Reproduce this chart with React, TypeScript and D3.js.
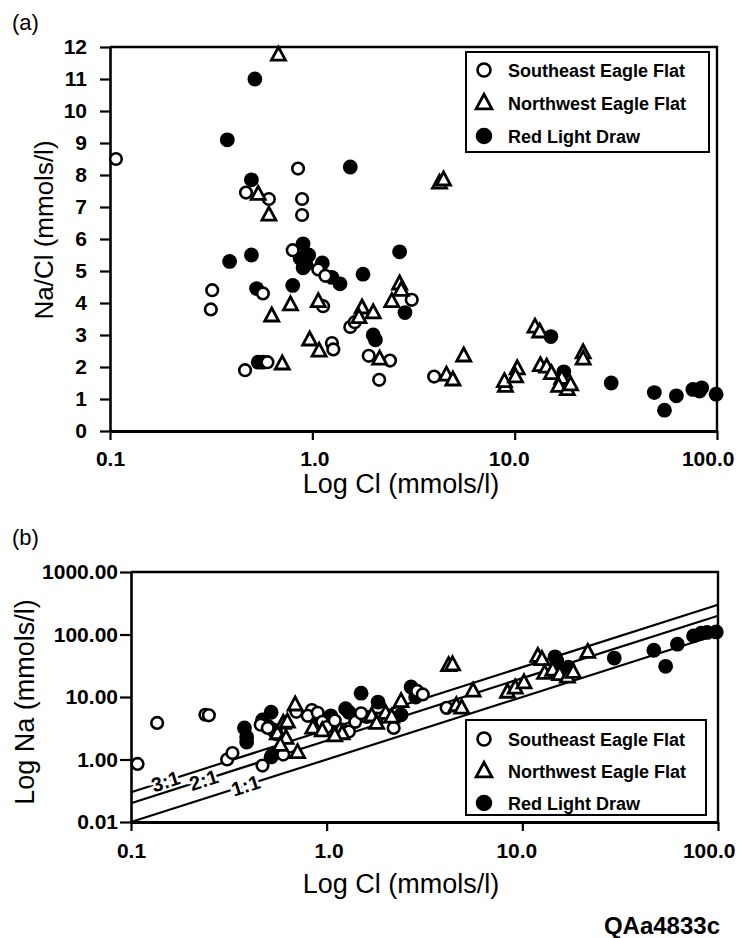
import React, { useEffect, useRef } from 'react';
import * as d3 from 'd3';

type Pt = [number, number];

// panel (a): [Cl, Na/Cl]
const seA: Pt[] = [
  [0.107, 8.5], [0.85, 8.2], [0.47, 7.45], [0.61, 7.25], [0.89, 7.25], [0.89, 6.75],
  [0.8, 5.65], [1.07, 5.05], [1.16, 4.85], [0.32, 4.4], [0.315, 3.8], [0.57, 4.3],
  [1.13, 3.9], [1.25, 2.75], [1.27, 2.55], [0.465, 1.9], [0.6, 2.15], [1.54, 3.25],
  [1.62, 3.4], [1.9, 2.35], [3.1, 4.1], [2.42, 2.2], [2.14, 1.6], [4.0, 1.7],
];
const nwA: Pt[] = [
  [0.68, 11.75], [0.54, 7.4], [0.61, 6.75], [0.63, 3.6], [0.78, 3.95], [1.07, 4.05],
  [0.97, 2.85], [1.08, 2.5], [0.71, 2.1], [4.25, 7.75], [4.45, 7.85], [2.7, 4.6],
  [2.75, 4.4], [2.47, 4.05], [1.76, 3.85], [2.0, 3.7], [1.7, 3.55], [2.15, 2.25],
  [5.6, 2.35], [4.6, 1.75], [4.95, 1.6], [9.0, 1.4], [8.9, 1.55], [10.3, 1.95],
  [10.1, 1.7], [12.6, 3.25], [13.3, 3.1], [13.4, 2.05], [14.4, 2.0], [15.2, 1.8],
  [17.1, 1.65], [16.5, 1.4], [18.2, 1.3], [18.9, 1.45], [21.8, 2.45], [21.8, 2.25],
];
const rlA: Pt[] = [
  [0.52, 11.0], [0.38, 9.1], [1.54, 8.25], [0.5, 7.85], [0.9, 5.85], [0.87, 5.4],
  [0.93, 5.2], [0.96, 5.5], [0.9, 5.1], [0.39, 5.3], [0.5, 5.5], [1.12, 5.25],
  [1.25, 4.8], [1.37, 4.6], [1.78, 4.9], [0.53, 4.45], [0.8, 4.55], [0.54, 2.15],
  [0.57, 2.15], [2.7, 5.6], [2.87, 3.7], [2.0, 3.0], [2.05, 2.85], [15.1, 2.95],
  [17.5, 1.85], [30, 1.5], [49, 1.2], [55, 0.65], [63, 1.1], [76, 1.3], [82, 1.25],
  [84, 1.35], [99, 1.15],
];

// panel (b): [Cl, Na]
const seB: Pt[] = [
  [0.108, 0.85], [0.136, 3.85], [0.24, 5.2], [0.25, 5.1], [0.31, 1.0], [0.33, 1.27],
  [0.47, 0.8], [0.6, 1.2], [0.46, 3.6], [0.5, 3.2], [0.84, 6.2], [0.8, 5.0],
  [0.9, 5.6], [0.95, 4.0], [1.0, 3.3], [1.1, 4.2], [1.2, 3.0], [1.3, 2.8],
  [1.6, 4.8], [2.2, 3.2], [2.9, 12.5], [3.1, 11], [4.1, 6.7], [0.7, 5.8],
  [1.4, 4.0], [1.5, 5.5], [1.8, 4.5],
];
const nwB: Pt[] = [
  [0.71, 1.3], [0.56, 2.6], [0.6, 3.8], [0.62, 2.2], [0.58, 1.7], [0.69, 7.5],
  [0.63, 4.0], [0.85, 3.2], [0.95, 2.9], [1.2, 2.6], [1.1, 2.4], [4.2, 32],
  [4.4, 33], [2.4, 8.5], [2.0, 5.5], [2.15, 4.8], [4.6, 7.3], [4.9, 6.7],
  [5.6, 12.5], [8.4, 12], [9.2, 14], [10.2, 17], [12, 45], [12.6, 40], [13, 24],
  [14.3, 27], [15.5, 23], [17, 21], [18.2, 25], [21.6, 52], [1.7, 5.0], [1.8, 3.8],
];
const rlB: Pt[] = [
  [0.38, 3.2], [0.39, 1.9], [0.39, 2.3], [0.52, 1.1], [0.53, 1.2], [0.52, 5.7],
  [0.47, 4.3], [0.5, 3.4], [0.53, 3.0], [0.55, 2.6], [0.88, 4.6], [1.05, 5.0],
  [1.25, 6.5], [1.3, 5.7], [1.5, 11.5], [1.83, 8.3], [2.7, 14.5], [2.85, 10],
  [2.4, 5.2], [14.7, 44], [15, 38], [17.2, 30], [29.5, 42], [47, 56], [54, 31],
  [62, 70], [75, 95], [82, 105], [88, 108], [98, 110],
];

const ratioTicks = [0, 1, 2, 3, 4, 5, 6, 7, 8, 9, 10, 11, 12];
const clTicks = [0.1, 1, 10, 100];
const clTickLabels = ['0.1', '1.0', '10.0', '100.0'];
const naTicks = [0.1, 1, 10, 100, 1000];
const naTickLabels = ['0.01', '1.00', '10.00', '100.00', '1000.00'];
const ratioLines = [3, 2, 1];
const ratioLineLabels = ['3:1', '2:1', '1:1'];
const ratioLabelAt = [0.15, 0.235, 0.385];
const seriesNames = ['Southeast Eagle Flat', 'Northwest Eagle Flat', 'Red Light Draw'];
const seriesKinds = ['open', 'tri', 'fill'];

const FONT = '"Liberation Sans", Arial, Helvetica, sans-serif';

type G = d3.Selection<SVGGElement, unknown, null, undefined>;

function marker(g: G, kind: string, x: number, y: number, big = false) {
  const k = big ? 1.12 : 1;
  if (kind === 'open') {
    g.append('circle').attr('cx', x).attr('cy', y).attr('r', 5.8 * k)
      .attr('fill', '#fff').attr('stroke', '#000').attr('stroke-width', 2.6);
  } else if (kind === 'fill') {
    g.append('circle').attr('cx', x).attr('cy', y).attr('r', 7.4 * k).attr('fill', '#000');
  } else {
    const w = 14 * k, h = 13 * k;
    const p = d3.path();
    p.moveTo(x, y - h * 0.6);
    p.lineTo(x + w / 2, y + h * 0.4);
    p.lineTo(x - w / 2, y + h * 0.4);
    p.closePath();
    g.append('path').attr('d', p.toString()).attr('fill', '#fff')
      .attr('stroke', '#000').attr('stroke-width', 2.8).attr('stroke-linejoin', 'miter');
  }
}

function legend(g: G, x: number, y: number, w: number, h: number, rowY: number[]) {
  g.append('rect').attr('x', x).attr('y', y).attr('width', w).attr('height', h)
    .attr('fill', '#fff').attr('stroke', '#000').attr('stroke-width', 2);
  seriesNames.forEach((name, i) => {
    marker(g, seriesKinds[i], x + 18, rowY[i], true);
    g.append('text').attr('x', x + 42).attr('y', rowY[i] + 6.5)
      .attr('font-size', 18).attr('font-weight', 'bold').text(name);
  });
}

function styleAxis(a: G, width: number) {
  a.select('.domain').attr('stroke-width', width);
  a.selectAll('.tick line').attr('stroke-width', 2.2);
  a.selectAll('.tick text').attr('font-family', FONT).attr('font-size', 21)
    .attr('font-weight', 'bold').attr('fill', '#000');
}

// nudge the x labels like the original: last one ends inside the page
function nudgeX(a: G) {
  a.selectAll<SVGTextElement, number>('.tick text').each(function (d) {
    const t = d3.select(this);
    if (d === 100) t.attr('text-anchor', 'end').attr('dx', 17);
    else if (d === 10) t.attr('dx', -6);
    else if (d === 1) t.attr('dx', 2);
  });
}

const App: React.FC = () => {
  const svgRef = useRef<SVGSVGElement>(null);

  useEffect(() => {
    if (!svgRef.current) return;
    const svg = d3.select(svgRef.current);
    svg.selectAll('*').remove();
    const root = svg.append('g').attr('font-family', FONT) as G;

    // ---------- panel (a)
    const xA = d3.scaleLog().domain([0.1, 100]).range([110, 717]);
    const yA = d3.scaleLinear().domain([0, 12]).range([431, 47]);

    root.append('text').attr('x', 12).attr('y', 30).attr('font-size', 22).text('(a)');

    // frame top/right
    root.append('path')
      .attr('d', `M${xA(0.1)},${yA(12)}H${xA(100)}V${yA(0)}`)
      .attr('fill', 'none').attr('stroke', '#000').attr('stroke-width', 2.4);

    const axYA = root.append('g').attr('transform', `translate(${xA(0.1)},0)`) as G;
    axYA.call(d3.axisLeft(yA).tickValues(ratioTicks).tickSize(10).tickSizeOuter(0).tickPadding(13));
    styleAxis(axYA, 2.6);

    const axXA = root.append('g').attr('transform', `translate(0,${yA(0)})`) as G;
    axXA.call(d3.axisBottom(xA).tickValues(clTicks)
      .tickFormat((_, i) => clTickLabels[i]).tickSize(9).tickSizeOuter(0).tickPadding(11));
    styleAxis(axXA, 3);
    nudgeX(axXA);

    const gA = root.append('g') as G;
    rlA.forEach(d => marker(gA, 'fill', xA(d[0]), yA(d[1])));
    seA.forEach(d => marker(gA, 'open', xA(d[0]), yA(d[1])));
    nwA.forEach(d => marker(gA, 'tri', xA(d[0]), yA(d[1])));

    legend(root, 466, 52, 243, 100, [70, 103, 136]);

    root.append('text').attr('x', 401).attr('y', 493).attr('text-anchor', 'middle')
      .attr('font-size', 27).text('Log Cl (mmols/l)');
    root.append('text').attr('transform', 'translate(53,230) rotate(-90)')
      .attr('text-anchor', 'middle').attr('font-size', 26).text('Na/Cl (mmols/l)');

    // ---------- panel (b)
    const xB = d3.scaleLog().domain([0.1, 100]).range([131, 718]);
    const yB = d3.scaleLog().domain([0.1, 1000]).range([822, 572]);

    root.append('text').attr('x', 12).attr('y', 545).attr('font-size', 22).text('(b)');

    root.append('path')
      .attr('d', `M${xB(0.1)},${yB(1000)}H${xB(100)}V${yB(0.1)}`)
      .attr('fill', 'none').attr('stroke', '#000').attr('stroke-width', 2.4);

    const axYB = root.append('g').attr('transform', `translate(${xB(0.1)},0)`) as G;
    axYB.call(d3.axisLeft(yB).tickValues(naTicks)
      .tickFormat((_, i) => naTickLabels[i]).tickSize(11).tickSizeOuter(0).tickPadding(2));
    styleAxis(axYB, 2.6);

    const axXB = root.append('g').attr('transform', `translate(0,${yB(0.1)})`) as G;
    axXB.call(d3.axisBottom(xB).tickValues(clTicks)
      .tickFormat((_, i) => clTickLabels[i]).tickSize(9).tickSizeOuter(0).tickPadding(12));
    styleAxis(axXB, 3);
    nudgeX(axXB);

    // ratio lines
    const ang = Math.atan2(yB(100) - yB(0.1), xB(100) - xB(0.1)) * 180 / Math.PI;
    ratioLines.forEach((k, i) => {
      root.append('line')
        .attr('x1', xB(0.1)).attr('y1', yB(0.1 * k))
        .attr('x2', xB(100)).attr('y2', yB(100 * k))
        .attr('stroke', '#000').attr('stroke-width', 2.2);
      const cx = xB(ratioLabelAt[i]);
      const cy = yB(ratioLabelAt[i] * k);
      root.append('text')
        .attr('transform', `translate(${cx},${cy}) rotate(${ang})`)
        .attr('text-anchor', 'middle').attr('dy', '0.36em')
        .attr('font-size', 20).attr('font-weight', 'bold')
        .attr('stroke', '#fff').attr('stroke-width', 5).attr('paint-order', 'stroke')
        .text(ratioLineLabels[i]);
    });

    const gB = root.append('g') as G;
    rlB.forEach(d => marker(gB, 'fill', xB(d[0]), yB(d[1])));
    seB.forEach(d => marker(gB, 'open', xB(d[0]), yB(d[1])));
    nwB.forEach(d => marker(gB, 'tri', xB(d[0]), yB(d[1])));

    legend(root, 466, 720, 240, 95, [739, 771, 803]);

    root.append('text').attr('x', 401).attr('y', 893).attr('text-anchor', 'middle')
      .attr('font-size', 27).text('Log Cl (mmols/l)');
    root.append('text').attr('transform', 'translate(34,702) rotate(-90)')
      .attr('text-anchor', 'middle').attr('font-size', 27).text('Log Na (mmols/l)');

    root.append('text').attr('x', 720).attr('y', 934).attr('text-anchor', 'end')
      .attr('font-size', 24).attr('font-weight', 'bold').text('QAa4833c');
  }, []);

  return (
    <svg ref={svgRef} width={739} height={938}
      style={{ position: 'absolute', left: 0, top: 0, background: '#fff' }} />
  );
};

export default App;
